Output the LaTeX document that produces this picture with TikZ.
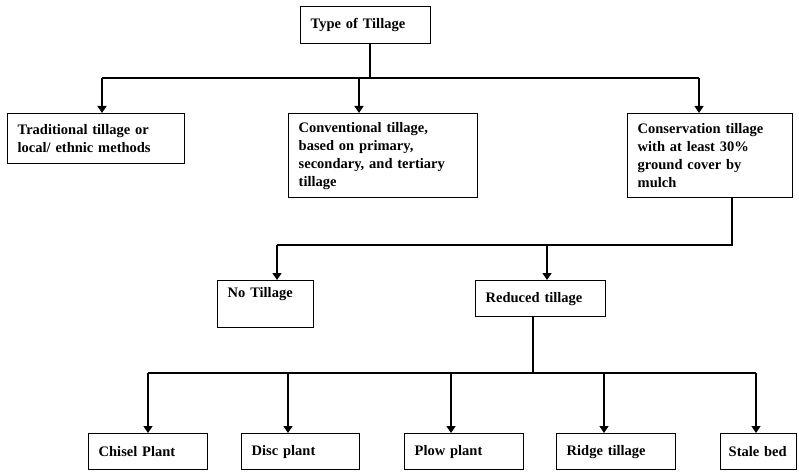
\documentclass[tikz,border=0pt]{standalone}
\usepackage{fontspec}
\setmainfont{Liberation Serif}
\usetikzlibrary{arrows.meta}
\begin{document}
\begin{tikzpicture}[x=1pt,y=-1pt,
  box/.style={rectangle,draw,line width=1.4pt,anchor=north west,
    align=left,inner xsep=10pt,inner ysep=6pt,
    font=\fontsize{14.5}{18}\selectfont\bfseries},
  line/.style={line width=1.4pt},
  arr/.style={line,-{Triangle[width=9pt,length=7pt]}}]
  \useasboundingbox (0,0) rectangle (799,473);

  \node[box,text width=110pt,minimum height=37pt] (type) at (300,6) {Type of Tillage};

  \node[box,text width=157pt,minimum height=50pt] (trad) at (7,113) {Traditional tillage or\\local/ ethnic methods};
  \node[box,text width=169pt,minimum height=84pt] (conv) at (288,113) {Conventional tillage,\\based on primary,\\secondary, and tertiary\\tillage};
  \node[box,text width=145pt,minimum height=84pt] (cons) at (627,113) {Conservation tillage\\with at least 30\%\\ground cover by\\mulch};

  \node[box,text width=76pt,text height=11pt,text depth=24pt] (notill) at (217,280) {No Tillage};
  \node[box,text width=110pt,minimum height=36pt] (reduced) at (475,280) {Reduced tillage};

  \node[box,text width=99pt,minimum height=36pt] (chisel) at (88,433) {Chisel Plant};
  \node[box,text width=98pt,minimum height=36pt] (disc) at (241,433) {Disc plant};
  \node[box,text width=99pt,minimum height=36pt] (plow) at (404,433) {Plow plant};
  \node[box,text width=99pt,minimum height=36pt] (ridge) at (556,433) {Ridge tillage};
  \node[box,text width=60pt,minimum height=36pt,inner xsep=8pt] (stale) at (720,433) {Stale bed};

  \coordinate (j0) at (370,78);
  \coordinate (j1) at (102,78);
  \coordinate (j2) at (359,78);
  \coordinate (j3) at (699,78);
  \draw[line] (j0 |- type.south) -- (j0);
  \draw[line] (j1) -- (j3);
  \draw[arr] (j1) -- (j1 |- trad.north);
  \draw[arr] (j2) -- (j2 |- conv.north);
  \draw[arr] (j3) -- (j3 |- cons.north);

  \coordinate (k0) at (732,245);
  \coordinate (k1) at (277,245);
  \coordinate (k2) at (547,245);
  \draw[line] (k0 |- cons.south) -- (k0) -- (k1);
  \draw[arr] (k1) -- (k1 |- notill.north);
  \draw[arr] (k2) -- (k2 |- reduced.north);

  \coordinate (m0) at (533,373);
  \coordinate (m1) at (148,373);
  \coordinate (m2) at (288,373);
  \coordinate (m3) at (451,373);
  \coordinate (m4) at (604,373);
  \coordinate (m5) at (756,373);
  \draw[line] (m0 |- reduced.south) -- (m0);
  \draw[line] (m1) -- (m5);
  \draw[arr] (m1) -- (m1 |- chisel.north);
  \draw[arr] (m2) -- (m2 |- disc.north);
  \draw[arr] (m3) -- (m3 |- plow.north);
  \draw[arr] (m4) -- (m4 |- ridge.north);
  \draw[arr] (m5) -- (m5 |- stale.north);
\end{tikzpicture}
\end{document}
